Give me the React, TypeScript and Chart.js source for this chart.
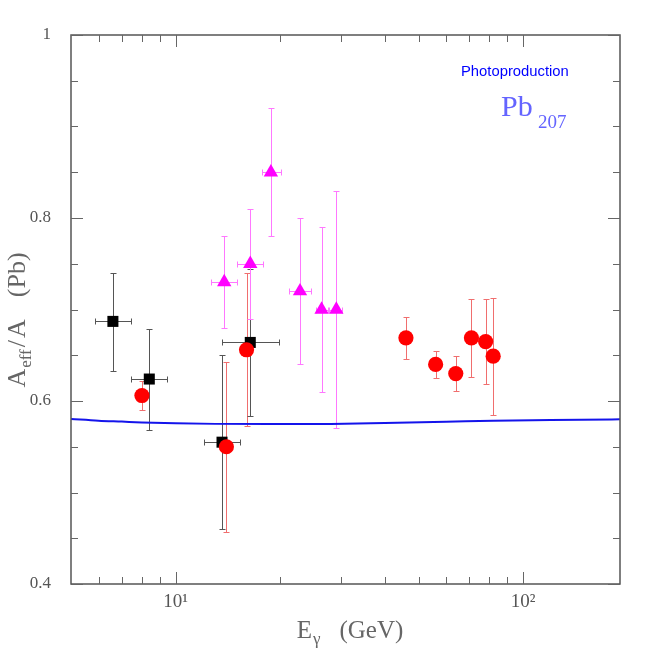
import React, { useEffect, useRef } from 'react';
import { Chart, registerables } from 'chart.js';

Chart.register(...registerables);

// ---- data ----
const squareX = [6.6, 8.4, 13.6, 16.4];
const squareY = [0.687, 0.624, 0.555, 0.664];
const squareXlo = [5.85, 7.45, 12.05, 13.6];
const squareXhi = [7.45, 9.45, 15.3, 19.8];
const squareYlo = [0.633, 0.568, 0.46, 0.584];
const squareYhi = [0.74, 0.679, 0.65, 0.744];

const circleX = [8.0, 14.0, 16.0, 46.0, 56.0, 64.0, 71.0, 78.0, 82.0];
const circleY = [0.606, 0.55, 0.656, 0.669, 0.64, 0.63, 0.669, 0.665, 0.649];
const circleYlo = [0.59, 0.457, 0.573, 0.646, 0.625, 0.611, 0.626, 0.619, 0.585];
const circleYhi = [0.622, 0.643, 0.74, 0.692, 0.655, 0.649, 0.712, 0.711, 0.713];

const triX = [13.8, 16.4, 18.8, 22.8, 26.3, 29.0];
const triY = [0.73, 0.75, 0.85, 0.72, 0.7, 0.7];
const triXlo = [12.65, 15.0, 17.7, 21.25, 25.3, 27.7];
const triXhi = [15.05, 17.8, 20.1, 24.5, 27.5, 30.2];
const triYlo = [0.68, 0.69, 0.78, 0.64, 0.61, 0.57];
const triYhi = [0.78, 0.81, 0.92, 0.8, 0.79, 0.83];

const curveX = [5, 6, 7, 8, 10, 13, 20, 28, 40, 60, 82, 120, 190];
const curveY = [0.5803, 0.5785, 0.5775, 0.5766, 0.5757, 0.575, 0.5748, 0.575, 0.576, 0.5773, 0.5785, 0.5792, 0.58];

const xTickValues = [10, 100];
const xTickLabels = ['10\u00b9', '10\u00b2'];
const xMinorTicks = [6, 7, 8, 9, 20, 30, 40, 50, 60, 70, 80, 90];
const yTickValues = [0.4, 0.6, 0.8, 1.0];
const yTickLabels = ['0.4', '0.6', '0.8', '1'];
const yMinorTicks = [0.45, 0.5, 0.55, 0.65, 0.7, 0.75, 0.85, 0.9, 0.95];

const pts = (xs: number[], ys: number[]) => xs.map((x, i) => ({ x, y: ys[i] }));

type Part = { text: string; size: number; dy?: number; gap?: number; family?: string };

function drawRich(ctx: CanvasRenderingContext2D, parts: Part[], family: string) {
  let total = 0;
  parts.forEach((p) => {
    ctx.font = `${p.size}px ${p.family || family}`;
    total += (p.gap || 0) + ctx.measureText(p.text).width;
  });
  let x = -total / 2;
  parts.forEach((p) => {
    ctx.font = `${p.size}px ${p.family || family}`;
    x += p.gap || 0;
    ctx.fillText(p.text, x, p.dy || 0);
    x += ctx.measureText(p.text).width;
  });
}

const decorPlugin = {
  id: 'decor',
  beforeDatasetsDraw(chart: any) {
    const ctx: CanvasRenderingContext2D = chart.ctx;
    const xs = chart.scales.x;
    const ys = chart.scales.y;
    ctx.save();
    chart.data.datasets.forEach((ds: any) => {
      const e = ds.errorBars;
      if (!e) return;
      ctx.strokeStyle = e.color;
      ctx.lineWidth = 1;
      ds.data.forEach((p: any, i: number) => {
        const px = Math.round(xs.getPixelForValue(p.x)) + 0.5;
        const py = Math.round(ys.getPixelForValue(p.y)) + 0.5;
        const cap = 3;
        if (e.ylo && e.yhi) {
          const y1 = Math.round(ys.getPixelForValue(e.ylo[i])) + 0.5;
          const y2 = Math.round(ys.getPixelForValue(e.yhi[i])) + 0.5;
          ctx.beginPath();
          ctx.moveTo(px, y1); ctx.lineTo(px, y2);
          ctx.moveTo(px - cap, y1); ctx.lineTo(px + cap, y1);
          ctx.moveTo(px - cap, y2); ctx.lineTo(px + cap, y2);
          ctx.stroke();
        }
        if (e.xlo && e.xhi) {
          const x1 = Math.round(xs.getPixelForValue(e.xlo[i])) + 0.5;
          const x2 = Math.round(xs.getPixelForValue(e.xhi[i])) + 0.5;
          ctx.beginPath();
          ctx.moveTo(x1, py); ctx.lineTo(x2, py);
          ctx.moveTo(x1, py - cap); ctx.lineTo(x1, py + cap);
          ctx.moveTo(x2, py - cap); ctx.lineTo(x2, py + cap);
          ctx.stroke();
        }
      });
    });
    ctx.restore();
  },
  afterDraw(chart: any) {
    const ctx: CanvasRenderingContext2D = chart.ctx;
    const { left, right, top, bottom } = chart.chartArea;
    const xs = chart.scales.x;
    const ys = chart.scales.y;
    ctx.save();
    // frame
    ctx.strokeStyle = '#555';
    ctx.lineWidth = 1.5;
    ctx.strokeRect(left, top, right - left, bottom - top);
    ctx.lineWidth = 1;
    ctx.strokeStyle = '#666';
    ctx.beginPath();
    const major = 12;
    const minor = 7;
    xTickValues.forEach((v) => {
      const px = Math.round(xs.getPixelForValue(v)) + 0.5;
      ctx.moveTo(px, bottom); ctx.lineTo(px, bottom - major);
      ctx.moveTo(px, top); ctx.lineTo(px, top + major);
    });
    xMinorTicks.forEach((v) => {
      const px = Math.round(xs.getPixelForValue(v)) + 0.5;
      ctx.moveTo(px, bottom); ctx.lineTo(px, bottom - minor);
      ctx.moveTo(px, top); ctx.lineTo(px, top + minor);
    });
    yTickValues.forEach((v) => {
      const py = Math.round(ys.getPixelForValue(v)) + 0.5;
      ctx.moveTo(left, py); ctx.lineTo(left + major, py);
      ctx.moveTo(right, py); ctx.lineTo(right - major, py);
    });
    yMinorTicks.forEach((v) => {
      const py = Math.round(ys.getPixelForValue(v)) + 0.5;
      ctx.moveTo(left, py); ctx.lineTo(left + minor, py);
      ctx.moveTo(right, py); ctx.lineTo(right - minor, py);
    });
    ctx.stroke();

    // axis titles
    ctx.fillStyle = '#666';
    ctx.textBaseline = 'alphabetic';
    ctx.textAlign = 'left';
    ctx.save();
    ctx.translate(350, 638);
    drawRich(ctx, [
      { text: 'E', size: 25 },
      { text: '\u03b3', size: 17, dy: 6, gap: 1 },
      { text: '(GeV)', size: 25, gap: 19 },
    ], '"Liberation Serif", serif');
    ctx.restore();

    ctx.save();
    ctx.translate(25, 320);
    ctx.rotate(-Math.PI / 2);
    drawRich(ctx, [
      { text: 'A', size: 26 },
      { text: 'eff', size: 17, dy: 6, gap: 1 },
      { text: '/', size: 26, gap: 2 },
      { text: 'A', size: 26, gap: 2 },
      { text: '(Pb)', size: 26, gap: 22 },
    ], '"Liberation Serif", serif');
    ctx.restore();

    // annotations
    ctx.fillStyle = '#0000ff';
    ctx.font = '14.8px "Liberation Sans", sans-serif';
    ctx.fillText('Photoproduction', 461, 76);
    ctx.fillStyle = 'rgb(100,100,255)';
    ctx.font = '30px "Liberation Serif", serif';
    ctx.fillText('Pb', 501, 116);
    ctx.font = '19px "Liberation Serif", serif';
    ctx.fillText('207', 538, 128);
    ctx.restore();
  },
};

export default function App() {
  const ref = useRef<HTMLCanvasElement>(null);
  useEffect(() => {
    const chart = new Chart(ref.current as HTMLCanvasElement, {
      type: 'scatter',
      data: {
        datasets: [
          {
            label: 'circles',
            data: pts(circleX, circleY),
            pointStyle: 'circle',
            pointRadius: 7.6,
            backgroundColor: '#ff0000',
            borderWidth: 0,
            errorBars: { ylo: circleYlo, yhi: circleYhi, color: 'rgb(240,110,110)' },
          } as any,
          {
            label: 'squares',
            data: pts(squareX, squareY),
            pointStyle: 'rect',
            pointRadius: 7.8,
            backgroundColor: '#000000',
            borderWidth: 0,
            errorBars: { xlo: squareXlo, xhi: squareXhi, ylo: squareYlo, yhi: squareYhi, color: '#555' },
          } as any,
          {
            label: 'triangles',
            data: pts(triX, triY),
            pointStyle: 'triangle',
            pointRadius: 8.3,
            backgroundColor: '#ff00ff',
            borderWidth: 0,
            errorBars: { xlo: triXlo, xhi: triXhi, ylo: triYlo, yhi: triYhi, color: '#ff77ff' },
          } as any,
          {
            type: 'line',
            label: 'curve',
            data: pts(curveX, curveY),
            borderColor: 'rgb(20,20,235)',
            borderWidth: 2,
            pointRadius: 0,
            cubicInterpolationMode: 'monotone',
            fill: false,
          } as any,
        ],
      },
      options: {
        responsive: false,
        animation: false,
        devicePixelRatio: 1,
        layout: { padding: { left: 0, top: 35, right: 34, bottom: 0 } },
        plugins: { legend: { display: false }, tooltip: { enabled: false } },
        scales: {
          x: {
            type: 'logarithmic',
            min: 5,
            max: 190,
            grid: { display: false, drawTicks: false },
            border: { display: false },
            afterBuildTicks: (s: any) => {
              s.ticks = xTickValues.map((v) => ({ value: v }));
            },
            afterFit: (s: any) => {
              s.height = 70;
            },
            ticks: {
              autoSkip: false,
              maxRotation: 0,
              padding: 7,
              color: '#555',
              font: { family: '"Liberation Serif", serif', size: 19 },
              callback: (v: any) => {
                const i = xTickValues.indexOf(Number(v));
                return i >= 0 ? xTickLabels[i] : '';
              },
            },
          },
          y: {
            type: 'linear',
            min: 0.4,
            max: 1,
            grid: { display: false, drawTicks: false },
            border: { display: false },
            afterBuildTicks: (s: any) => {
              s.ticks = yTickValues.map((v) => ({ value: v }));
            },
            afterFit: (s: any) => {
              s.width = 71;
            },
            ticks: {
              padding: 20,
              color: '#555',
              font: { family: '"Liberation Serif", serif', size: 17 },
              callback: (v: any) => {
                const i = yTickValues.findIndex((t) => Math.abs(t - Number(v)) < 1e-9);
                return i >= 0 ? yTickLabels[i] : '';
              },
            },
          },
        },
      },
      plugins: [decorPlugin],
    } as any);
    return () => chart.destroy();
  }, []);
  return (
    <div style={{ position: 'fixed', left: 0, top: 0, width: 654, height: 654, background: '#fff' }}>
      <canvas ref={ref} width={654} height={654} style={{ width: 654, height: 654, display: 'block' }} />
    </div>
  );
}
